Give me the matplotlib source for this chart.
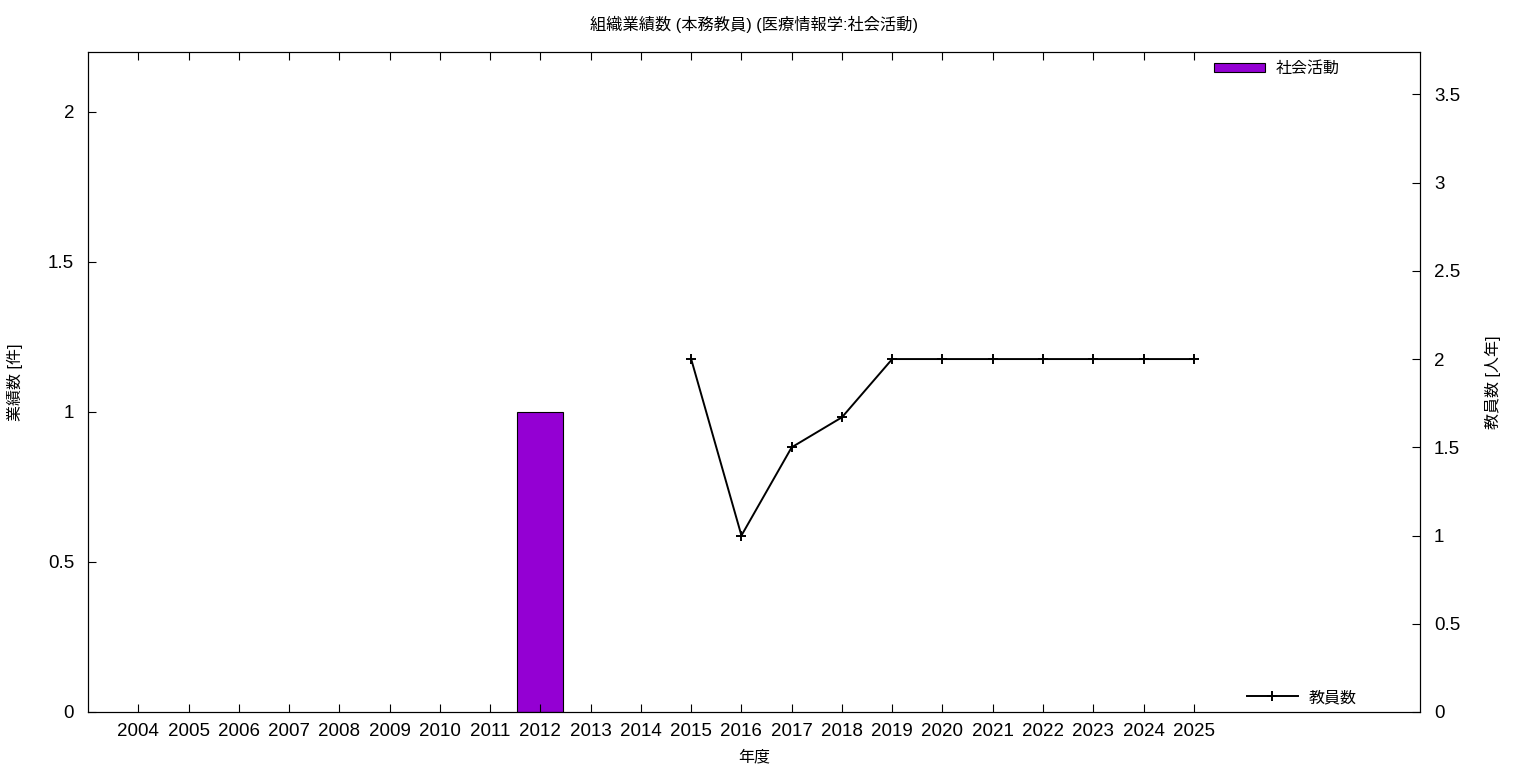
import numpy as np
import matplotlib
matplotlib.use('Agg')
import matplotlib.pyplot as plt

plt.rcParams['font.family'] = ['Liberation Sans', 'Noto Sans CJK JP', 'DejaVu Sans']

# Data
years = list(range(2004, 2026))
bar_years = [2012]
bar_values = [1]
staff_years = [2015, 2016, 2017, 2018, 2019, 2020, 2021, 2022, 2023, 2024, 2025]
staff_values = [2, 1, 1.5, 1.67, 2, 2, 2, 2, 2, 2, 2]

fig = plt.figure(figsize=(15.36, 7.68), dpi=100)
ax = fig.add_axes([88/1536, 1-712/768, (1420-88)/1536, (712-52)/768])
ax2 = ax.twinx()

ax.bar(bar_years, bar_values, width=0.92, color='#9400d3', edgecolor='black', linewidth=0.8, label='社会活動')
ax2.plot(staff_years, staff_values, color='black', linewidth=1.4, marker='+', markersize=7, markeredgewidth=1.4, label='教員数')

ax.set_xlim(2003, 2029.5)
ax.set_ylim(0, 2.2)
ax2.set_ylim(0, 3.74)
ax.set_xticks(years)
ax.set_xticklabels([str(y) for y in years])
ax.set_yticks([0, 0.5, 1, 1.5, 2])
ax.set_yticklabels(['0', '0.5', '1', '1.5', '2'])
ax2.set_yticks([0, 0.5, 1, 1.5, 2, 2.5, 3, 3.5])
ax2.set_yticklabels(['0', '0.5', '1', '1.5', '2', '2.5', '3', '3.5'])

ax.tick_params(axis='x', direction='in', top=True, length=6, labelsize=13.5, pad=8)
ax.tick_params(axis='y', direction='in', right=False, length=6, labelsize=13.5, pad=10)
ax2.tick_params(axis='y', direction='in', length=6, labelsize=13.5, pad=10)

ax.set_xlabel('年度', fontsize=11.5, labelpad=7)
ax.set_ylabel('業績数 [件]', fontsize=11.5)
ax.yaxis.set_label_coords(-0.0488, 0.5)
ax2.set_ylabel('教員数 [人年]', fontsize=11.5, rotation=90)
ax2.yaxis.set_label_coords(1.0487, 0.5)
ax.set_title('組織業績数 (本務教員) (医療情報学:社会活動)', fontsize=11.7, pad=16)

ax.legend(loc='upper right', bbox_to_anchor=(0.940, 0.9865), frameon=False, fontsize=11.5,
          handlelength=3.2, handleheight=0.5, handletextpad=0.7, borderpad=0, borderaxespad=0)
ax2.legend(loc='lower right', bbox_to_anchor=(0.9527, 0.0106), frameon=False, fontsize=11.5,
           handlelength=3.2, handletextpad=0.7, borderpad=0, borderaxespad=0)

fig.savefig('out.png', dpi=100)
